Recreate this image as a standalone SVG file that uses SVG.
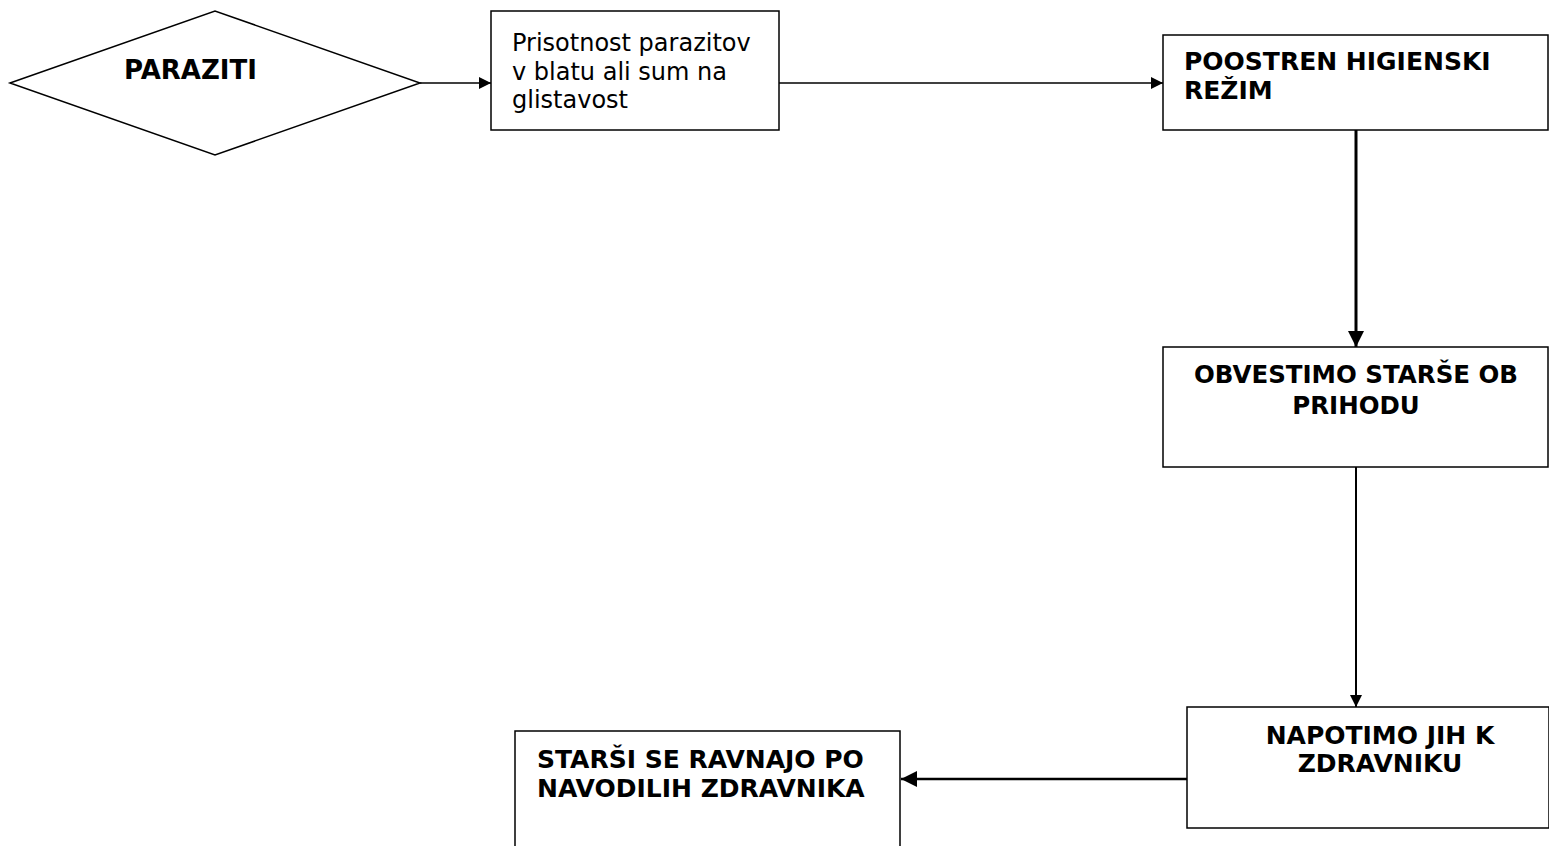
<svg xmlns="http://www.w3.org/2000/svg" width="1549" height="846" viewBox="0 0 1549 846">
<style>
.shape{fill:#fff;stroke:#000;stroke-width:1.5}
.t{font-family:"DejaVu Sans",Verdana,sans-serif;font-size:24px;fill:#000}
.b{font-weight:bold;font-size:25px}
.c{stroke:#000;fill:none}
</style>
<defs>
<marker id="ah" viewBox="0 0 10 10" refX="10" refY="5" markerWidth="12" markerHeight="12" markerUnits="userSpaceOnUse" orient="auto">
<path d="M0,0 L10,5 L0,10 z" fill="#000"/>
</marker>
<marker id="ahb" viewBox="0 0 10 10" refX="10" refY="5" markerWidth="16" markerHeight="16" markerUnits="userSpaceOnUse" orient="auto">
<path d="M0,0 L10,5 L0,10 z" fill="#000"/>
</marker>
</defs>
<rect width="1549" height="846" fill="#fff"/>
<g id="connectors">
<line class="c" x1="420" y1="83" x2="491" y2="83" stroke-width="1.5" marker-end="url(#ah)"/>
<line class="c" x1="779" y1="83" x2="1163" y2="83" stroke-width="1.5" marker-end="url(#ah)"/>
<line class="c" x1="1356" y1="130" x2="1356" y2="347" stroke-width="3" marker-end="url(#ahb)"/>
<line class="c" x1="1356" y1="467" x2="1356" y2="707" stroke-width="2" marker-end="url(#ah)"/>
<line class="c" x1="1187" y1="779" x2="901" y2="779" stroke-width="2.5" marker-end="url(#ahb)"/>
</g>
<g id="paraziti">
<polygon class="shape" points="10,83 215,11 420,83 215,155"/>
<text class="t b" x="124" y="79" style="font-size:26px">PARAZITI</text>
</g>
<g id="prisotnost">
<rect class="shape" x="491" y="11" width="288" height="119"/>
<text class="t" x="512" y="51">Prisotnost parazitov</text>
<text class="t" x="512" y="80">v blatu ali sum na</text>
<text class="t" x="512" y="108">glistavost</text>
</g>
<g id="poostren">
<rect class="shape" x="1163" y="35" width="385" height="95"/>
<text class="t b" x="1184" y="70">POOSTREN HIGIENSKI</text>
<text class="t b" x="1184" y="99">REŽIM</text>
</g>
<g id="obvestimo">
<rect class="shape" x="1163" y="347" width="385" height="120"/>
<text class="t b" x="1356" y="383" text-anchor="middle" style="font-size:24.5px">OBVESTIMO STARŠE OB</text>
<text class="t b" x="1356" y="414" text-anchor="middle" style="font-size:24.5px">PRIHODU</text>
</g>
<g id="napotimo">
<rect class="shape" x="1187" y="707" width="362" height="121"/>
<text class="t b" x="1380" y="744" text-anchor="middle">NAPOTIMO JIH K</text>
<text class="t b" x="1380" y="772" text-anchor="middle">ZDRAVNIKU</text>
</g>
<g id="starsi">
<rect class="shape" x="515" y="731" width="385" height="130"/>
<text class="t b" x="537" y="768">STARŠI SE RAVNAJO PO</text>
<text class="t b" x="537" y="797">NAVODILIH ZDRAVNIKA</text>
</g>
</svg>
